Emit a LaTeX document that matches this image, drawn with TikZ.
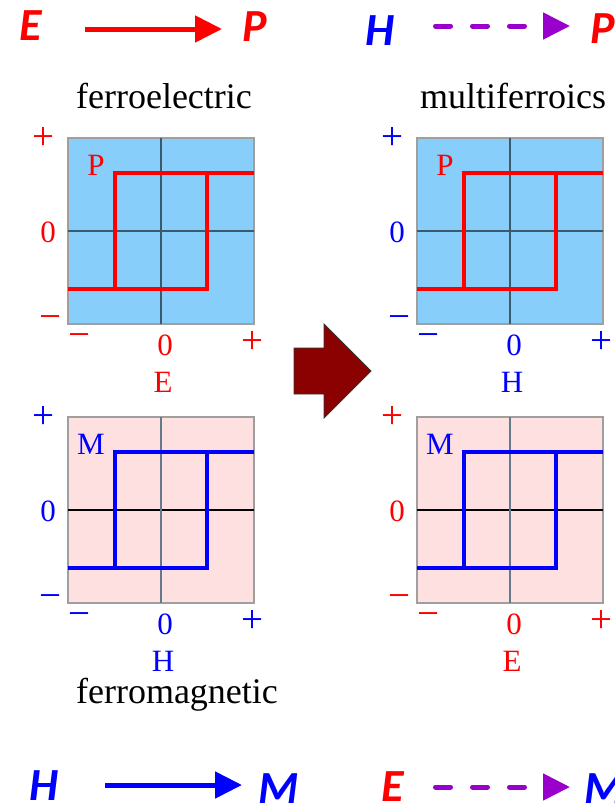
\documentclass[tikz,border=0pt]{standalone}
\usepackage{fontspec}
\setmainfont{Liberation Serif}
\newfontfamily\arrfont{Carlito}
\usetikzlibrary{arrows.meta}
\definecolor{pred}{RGB}{255,0,0}
\definecolor{pblue}{RGB}{0,0,255}
\definecolor{ppurple}{RGB}{153,0,204}
\definecolor{skyfill}{RGB}{135,206,250}
\definecolor{pinkfill}{RGB}{255,224,224}
\definecolor{gridslate}{RGB}{60,90,110}
\definecolor{darkarrow}{RGB}{139,0,0}
\tikzset{
  panelbox/.style={draw=gray!75, line width=1.2pt, minimum width=186pt, minimum height=186pt, anchor=north west, inner sep=0pt, outer sep=0pt},
  bluegridh/.style={draw=gridslate, line width=2pt},
  bluegridv/.style={draw=gridslate, line width=2pt},
  pinkgridh/.style={draw=black, line width=1.5pt},
  pinkgridv/.style={draw=gridslate!80, line width=1.5pt},
  loopline/.style={line width=4pt, line join=miter},
  ticklabel/.style={font=\fontsize{31}{31}\selectfont, inner sep=0pt},
  signlabel/.style={font=\fontsize{39}{39}\selectfont, inner sep=0pt},
  titlelabel/.style={font=\fontsize{36}{36}\selectfont, anchor=base, inner sep=0pt},
  bigletter/.style={font=\arrfont\bfseries\itshape\fontsize{46}{46}\selectfont, anchor=base, inner sep=0pt},
  solidarrow/.style={line width=5pt, -{Triangle[length=27pt, width=26pt]}},
  dasharrow/.style={line width=5pt, draw=ppurple, line cap=round, dash pattern=on 15pt off 22pt, -{Triangle[length=27pt, width=26pt, fill=ppurple, line cap=butt]}},
}
\newcommand{\hystpanel}[8]{%
  \begin{scope}[shift={(#2,#3)}]
    \node[panelbox, fill=#4] (#1box) at (0,0) {};
    \draw[#5h] (0,93) -- (186,93);
    \draw[#5v] (93,0) -- (93,186);
    \draw[loopline, draw=#6] (47,35) rectangle (139,151);
    \draw[loopline, draw=#6, line cap=butt] (0,151) -- (47,151);
    \draw[loopline, draw=#6, line cap=butt] (139,35) -- (186,35);
    \node[signlabel, text=#7] (#1yplus) at (-24.5,0) {+};
    \node[ticklabel, text=#7] (#1yzero) at (-20,94) {0};
    \node[signlabel, text=#7] (#1yminus) at (-18,185) {\textminus};
    \node[signlabel, text=#7] (#1xminus) at (11,203) {\textminus};
    \node[ticklabel, text=#7] (#1xzero) at (97,207) {0};
    \node[signlabel, text=#7] (#1xplus) at (184,204) {+};
    \node[ticklabel, text=#7] (#1xlabel) at (95,244) {#8};
  \end{scope}}
\begin{document}
\begin{tikzpicture}[x=1pt, y=-1pt]
\useasboundingbox (0,0) rectangle (614,806);
% top-left: E -> P
\node[bigletter, text=pred] (tlE) at (31,40) {E};
\node[bigletter, text=pred] (tlP) at (255,41) {P};
\coordinate (tlAs) at (85,29);
\coordinate (tlAe) at (222,29);
\draw[solidarrow, draw=pred, fill=pred] (tlAs) -- (tlAe);
% top-right: H --> P
\node[bigletter, text=pblue] (trH) at (380,45) {H};
\node[bigletter, text=pred] (trP) at (603,43) {P};
\coordinate (trAs) at (435.5,26);
\coordinate (trAe) at (570,26);
\draw[dasharrow] (trAs) -- (trAe);
% bottom-left: H -> M
\node[bigletter, text=pblue] (blH) at (44,800) {H};
\node[bigletter, text=pblue] (blM) at (279,803) {M};
\coordinate (blAs) at (105,785);
\coordinate (blAe) at (242,785);
\draw[solidarrow, draw=pblue, fill=pblue] (blAs) -- (blAe);
% bottom-right: E --> M
\node[bigletter, text=pred] (brE) at (393,801) {E};
\node[bigletter, text=pblue] (brM) at (605,803) {M};
\coordinate (brAs) at (435.5,787);
\coordinate (brAe) at (570,787);
\draw[dasharrow] (brAs) -- (brAe);
% titles
\node[titlelabel] (ferroel) at (164,108) {ferroelectric};
\node[titlelabel] (multif) at (513,108) {multiferroics};
\node[titlelabel] (ferromag) at (177,703) {ferromagnetic};
% panels
\hystpanel{tl}{68}{138}{skyfill}{bluegrid}{pred}{pred}{E}
\hystpanel{tr}{417}{138}{skyfill}{bluegrid}{pred}{pblue}{H}
\hystpanel{bl}{68}{417}{pinkfill}{pinkgrid}{pblue}{pblue}{H}
\hystpanel{br}{417}{417}{pinkfill}{pinkgrid}{pblue}{pred}{E}
% loop letters
\node[ticklabel, text=pred] (tlP2) at (96,165) {P};
\node[ticklabel, text=pred] (trP2) at (445,165) {P};
\node[ticklabel, text=pblue] (blM2) at (91,444) {M};
\node[ticklabel, text=pblue] (brM2) at (440,444) {M};
% big arrow
\draw[fill=darkarrow, draw=black!80, line width=0.8pt, line join=miter]
  (294,348) -- (324,348) -- (324,324) -- (371,371) -- (324,418) -- (324,394) -- (294,394) -- cycle;
\end{tikzpicture}
\end{document}
